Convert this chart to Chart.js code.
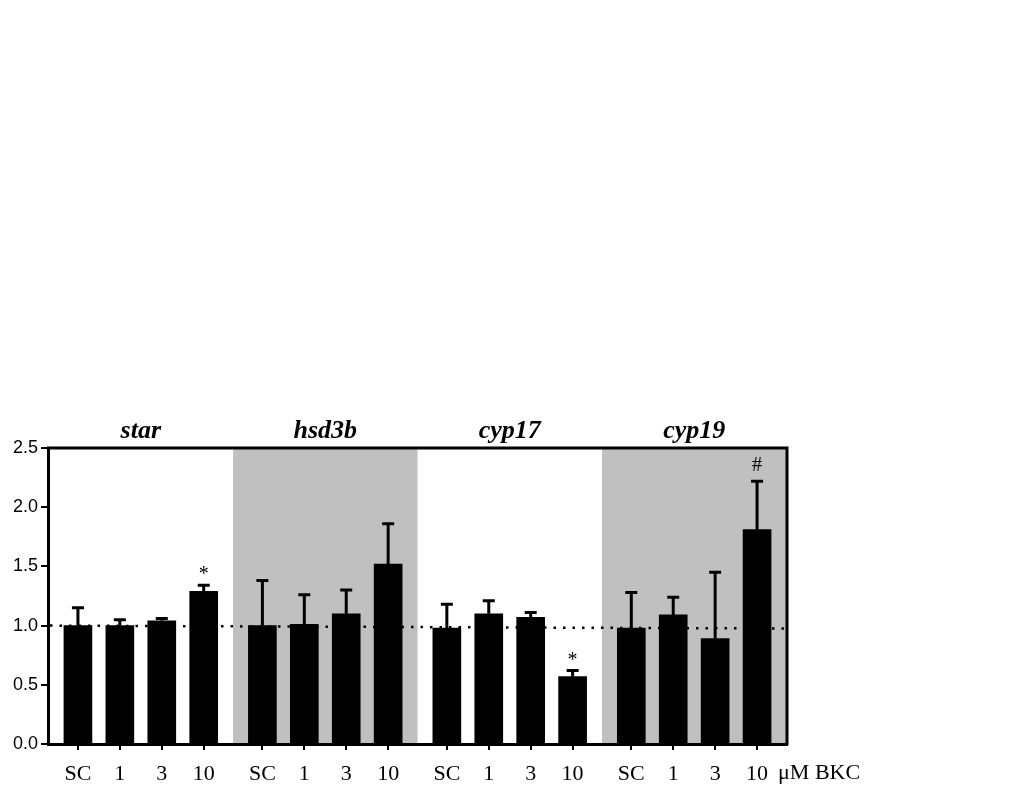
<!DOCTYPE html>
<html>
<head>
<meta charset="utf-8">
<script src="https://cdn.jsdelivr.net/npm/chart.js@4.4.1/dist/chart.umd.min.js"></script>
<style>
html,body{margin:0;padding:0;background:#fff;}
#wrap{width:1024px;height:804px;position:relative;}
</style>
</head>
<body>
<div id="wrap"><canvas id="c" width="1024" height="804"></canvas></div>
<script>
// ---- data ----
const genes = ['star', 'hsd3b', 'cyp17', 'cyp19'];
const doses = ['SC', '1', '3', '10'];
const unitLabel = 'μM BKC';
const starVals  = [1.00, 1.00, 1.04, 1.29];
const starErr   = [0.15, 0.05, 0.02, 0.05];
const hsdVals   = [1.00, 1.01, 1.10, 1.52];
const hsdErr    = [0.38, 0.25, 0.20, 0.34];
const cyp17Vals = [0.98, 1.10, 1.07, 0.57];
const cyp17Err  = [0.20, 0.11, 0.04, 0.05];
const cyp19Vals = [0.98, 1.09, 0.89, 1.81];
const cyp19Err  = [0.30, 0.15, 0.56, 0.41];
const starMarks = ['', '', '', '*'];
const hsdMarks  = ['', '', '', ''];
const cyp17Marks= ['', '', '', '*'];
const cyp19Marks= ['', '', '', '#'];
const shadedGroups = [false, true, false, true];
const refLevelLeft = 1.0, refLevelRight = 0.975;
const yTicks = [0, 0.5, 1.0, 1.5, 2.0, 2.5];

const groupVals = [starVals, hsdVals, cyp17Vals, cyp19Vals];
const groupErr = [starErr, hsdErr, cyp17Err, cyp19Err];
const groupMarks = [starMarks, hsdMarks, cyp17Marks, cyp19Marks];
const GROUP_STEP = 4.4;
const pts = [], errs = [], marks = [], xLabels = [], xPos = [];
groupVals.forEach((vals, g) => {
  vals.forEach((v, i) => {
    const x = g * GROUP_STEP + i;
    pts.push({x: x, y: v});
    errs.push(groupErr[g][i]);
    marks.push(groupMarks[g][i]);
    xLabels.push(doses[i]);
    xPos.push(x);
  });
});
const groupCenter = g => g * GROUP_STEP + 1.5;

const decor = {
  id: 'decor',
  beforeDraw(chart) {
    const {ctx, chartArea: a, scales: {x, y}} = chart;
    ctx.save();
    ctx.fillStyle = '#c0c0c0';
    shadedGroups.forEach((s, g) => {
      if (!s) return;
      const l = Math.max(a.left, x.getPixelForValue(groupCenter(g) - 2.2));
      const r = Math.min(a.right, x.getPixelForValue(groupCenter(g) + 2.2));
      ctx.fillRect(l, a.top, r - l, a.bottom - a.top);
    });
    ctx.restore();
  },
  beforeDatasetsDraw(chart) {
    const {ctx, chartArea: a, scales: {y}} = chart;
    ctx.save();
    ctx.strokeStyle = '#000';
    ctx.lineWidth = 2.5;
    ctx.setLineDash([2.5, 7]);
    ctx.beginPath();
    ctx.moveTo(a.left + 2, y.getPixelForValue(refLevelLeft));
    ctx.lineTo(a.right - 2, y.getPixelForValue(refLevelRight));
    ctx.stroke();
    ctx.restore();
  },
  afterDatasetsDraw(chart) {
    const {ctx, chartArea: a, scales: {x, y}} = chart;
    ctx.save();
    ctx.strokeStyle = '#000';
    ctx.lineWidth = 3;
    pts.forEach((p, i) => {
      const px = x.getPixelForValue(p.x);
      const top = y.getPixelForValue(p.y + errs[i]);
      const base = y.getPixelForValue(p.y);
      ctx.beginPath();
      ctx.moveTo(px, base);
      ctx.lineTo(px, top);
      ctx.moveTo(px - 6, top);
      ctx.lineTo(px + 6, top);
      ctx.stroke();
      if (marks[i]) {
        ctx.fillStyle = '#000';
        ctx.font = '20px "Liberation Serif"';
        ctx.textAlign = 'center';
        ctx.textBaseline = 'alphabetic';
        ctx.fillText(marks[i], px, top + (marks[i] === '*' ? -5 : -10));
      }
    });
    // top and right frame
    ctx.lineWidth = 3;
    ctx.beginPath();
    ctx.moveTo(a.left - 1, a.top);
    ctx.lineTo(a.right, a.top);
    ctx.lineTo(a.right, a.bottom + 1);
    ctx.stroke();
    ctx.restore();
  },
  afterDraw(chart) {
    const {ctx, chartArea: a, scales: {x}} = chart;
    ctx.save();
    ctx.fillStyle = '#000';
    ctx.font = 'italic bold 26px "Liberation Serif"';
    ctx.textAlign = 'center';
    ctx.textBaseline = 'alphabetic';
    genes.forEach((gname, g) => {
      ctx.fillText(gname, x.getPixelForValue(groupCenter(g)), 438);
    });
    ctx.font = '22px "Liberation Serif"';
    ctx.textAlign = 'left';
    ctx.textBaseline = 'middle';
    ctx.fillText(unitLabel, x.getPixelForValue(xPos[xPos.length - 1]) + 21, 773);
    ctx.restore();
  }
};

new Chart(document.getElementById('c'), {
  type: 'bar',
  data: {
    datasets: [{
      data: pts,
      backgroundColor: '#000',
      borderWidth: 0,
      barThickness: 28
    }]
  },
  options: {
    responsive: false,
    animation: false,
    events: [],
    layout: {padding: {top: 448, right: 237, bottom: 0, left: 0}},
    plugins: {legend: {display: false}, tooltip: {enabled: false}, title: {display: false}},
    scales: {
      x: {
        type: 'linear',
        offset: false,
        bounds: 'data',
        min: -0.714,
        max: 16.914,
        afterFit(s) { s.height = 60; },
        afterBuildTicks(s) { s.ticks = xPos.map(v => ({value: v})); },
        border: {display: true, color: '#000', width: 3},
        grid: {offset: false, drawOnChartArea: false, drawTicks: true, tickLength: 6, color: '#000', lineWidth: 2},
        ticks: {
          autoSkip: false,
          maxRotation: 0,
          padding: 11,
          color: '#000',
          font: {family: '"Liberation Serif"', size: 22},
          callback: (v, i) => xLabels[i]
        }
      },
      y: {
        min: 0,
        max: 2.5,
        afterFit(s) { s.width = 48; },
        afterBuildTicks(s) { s.ticks = yTicks.map(v => ({value: v})); },
        border: {display: true, color: '#000', width: 3},
        grid: {drawOnChartArea: false, drawTicks: true, tickLength: 7, color: '#000', lineWidth: 2},
        ticks: {
          padding: 3,
          color: '#000',
          font: {family: '"Liberation Sans"', size: 18},
          callback: v => v.toFixed(1)
        }
      }
    }
  },
  plugins: [decor]
});
</script>
</body>
</html>
